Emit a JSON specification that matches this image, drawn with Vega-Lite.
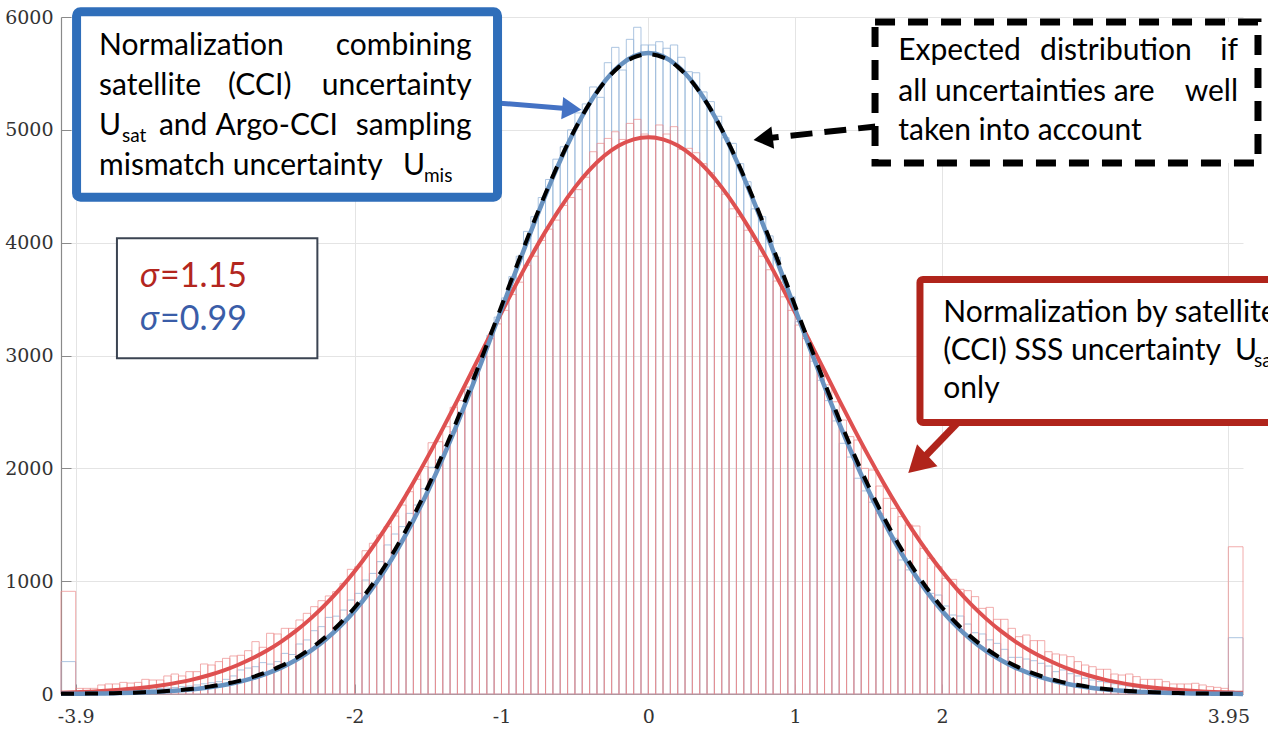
{
"$schema": "https://vega.github.io/schema/vega-lite/v6.json",
"width": 1182,
"height": 677,
"autosize": {"type": "none"},
"padding": {"left": 61, "top": 17, "right": 25, "bottom": 42},
"background": "white",
"config": {
  "view": {"stroke": null},
  "text": {"font": "Lato", "fontSize": 30, "baseline": "alphabetic", "align": "left", "color": "#000000"}
},
"datasets": {
"bins": [
{"lo":-4,"hi":-3.9,"r":910,"b":287},
{"lo":-3.9,"hi":-3.85,"r":50,"b":15},
{"lo":-3.85,"hi":-3.8,"r":50,"b":15},
{"lo":-3.8,"hi":-3.75,"r":50,"b":18},
{"lo":-3.75,"hi":-3.7,"r":80,"b":20},
{"lo":-3.7,"hi":-3.65,"r":89,"b":22},
{"lo":-3.65,"hi":-3.6,"r":89,"b":25},
{"lo":-3.6,"hi":-3.55,"r":103,"b":28},
{"lo":-3.55,"hi":-3.5,"r":97,"b":30},
{"lo":-3.5,"hi":-3.45,"r":103,"b":35},
{"lo":-3.45,"hi":-3.4,"r":130,"b":38},
{"lo":-3.4,"hi":-3.35,"r":124,"b":42},
{"lo":-3.35,"hi":-3.3,"r":124,"b":48},
{"lo":-3.3,"hi":-3.25,"r":160,"b":52},
{"lo":-3.25,"hi":-3.2,"r":177,"b":58},
{"lo":-3.2,"hi":-3.15,"r":160,"b":65},
{"lo":-3.15,"hi":-3.1,"r":198,"b":70},
{"lo":-3.1,"hi":-3.05,"r":198,"b":80},
{"lo":-3.05,"hi":-3,"r":266,"b":90},
{"lo":-3,"hi":-2.95,"r":257,"b":100},
{"lo":-2.95,"hi":-2.9,"r":287,"b":109},
{"lo":-2.9,"hi":-2.85,"r":316,"b":130},
{"lo":-2.85,"hi":-2.8,"r":337,"b":160},
{"lo":-2.8,"hi":-2.75,"r":343,"b":213},
{"lo":-2.75,"hi":-2.7,"r":384,"b":230},
{"lo":-2.7,"hi":-2.65,"r":464,"b":242},
{"lo":-2.65,"hi":-2.6,"r":414,"b":278},
{"lo":-2.6,"hi":-2.55,"r":538,"b":265},
{"lo":-2.55,"hi":-2.5,"r":532,"b":287},
{"lo":-2.5,"hi":-2.45,"r":582,"b":360},
{"lo":-2.45,"hi":-2.4,"r":582,"b":350},
{"lo":-2.4,"hi":-2.35,"r":656,"b":443},
{"lo":-2.35,"hi":-2.3,"r":715,"b":479},
{"lo":-2.3,"hi":-2.25,"r":774,"b":561},
{"lo":-2.25,"hi":-2.2,"r":827,"b":597},
{"lo":-2.2,"hi":-2.15,"r":869,"b":679},
{"lo":-2.15,"hi":-2.1,"r":907,"b":690},
{"lo":-2.1,"hi":-2.05,"r":981,"b":744},
{"lo":-2.05,"hi":-2,"r":1105,"b":833},
{"lo":-2,"hi":-1.95,"r":1128,"b":892},
{"lo":-1.95,"hi":-1.9,"r":1270,"b":1010},
{"lo":-1.9,"hi":-1.85,"r":1336,"b":1069},
{"lo":-1.85,"hi":-1.8,"r":1409,"b":1173},
{"lo":-1.8,"hi":-1.75,"r":1483,"b":1321},
{"lo":-1.75,"hi":-1.7,"r":1578,"b":1418},
{"lo":-1.7,"hi":-1.65,"r":1675,"b":1483},
{"lo":-1.65,"hi":-1.6,"r":1793,"b":1601},
{"lo":-1.6,"hi":-1.55,"r":1903,"b":1675},
{"lo":-1.55,"hi":-1.5,"r":2015,"b":1820},
{"lo":-1.5,"hi":-1.45,"r":2227,"b":2009},
{"lo":-1.45,"hi":-1.4,"r":2236,"b":2074},
{"lo":-1.4,"hi":-1.35,"r":2369,"b":2198},
{"lo":-1.35,"hi":-1.3,"r":2541,"b":2325},
{"lo":-1.3,"hi":-1.25,"r":2600,"b":2500},
{"lo":-1.25,"hi":-1.2,"r":2720,"b":2700},
{"lo":-1.2,"hi":-1.15,"r":2880,"b":2840},
{"lo":-1.15,"hi":-1.1,"r":2990,"b":2990},
{"lo":-1.1,"hi":-1.05,"r":3150,"b":3180},
{"lo":-1.05,"hi":-1,"r":3280,"b":3340},
{"lo":-1,"hi":-0.95,"r":3400,"b":3510},
{"lo":-0.95,"hi":-0.9,"r":3540,"b":3700},
{"lo":-0.9,"hi":-0.85,"r":3650,"b":3880},
{"lo":-0.85,"hi":-0.8,"r":3800,"b":4100},
{"lo":-0.8,"hi":-0.75,"r":3880,"b":4230},
{"lo":-0.75,"hi":-0.7,"r":4020,"b":4400},
{"lo":-0.7,"hi":-0.65,"r":4120,"b":4560},
{"lo":-0.65,"hi":-0.6,"r":4200,"b":4740},
{"lo":-0.6,"hi":-0.55,"r":4330,"b":4850},
{"lo":-0.55,"hi":-0.5,"r":4400,"b":5000},
{"lo":-0.5,"hi":-0.45,"r":4470,"b":5150},
{"lo":-0.45,"hi":-0.4,"r":4580,"b":5230},
{"lo":-0.4,"hi":-0.35,"r":4806,"b":5380},
{"lo":-0.35,"hi":-0.3,"r":4880,"b":5288},
{"lo":-0.3,"hi":-0.25,"r":4924,"b":5595},
{"lo":-0.25,"hi":-0.2,"r":4983,"b":5731},
{"lo":-0.2,"hi":-0.15,"r":4915,"b":5530},
{"lo":-0.15,"hi":-0.1,"r":5057,"b":5802},
{"lo":-0.1,"hi":-0.05,"r":5093,"b":5909},
{"lo":-0.05,"hi":0,"r":4963,"b":5752},
{"lo":0,"hi":0.05,"r":4945,"b":5752},
{"lo":0.05,"hi":0.1,"r":5043,"b":5781},
{"lo":0.1,"hi":0.15,"r":4963,"b":5723},
{"lo":0.15,"hi":0.2,"r":5028,"b":5752},
{"lo":0.2,"hi":0.25,"r":4827,"b":5643},
{"lo":0.25,"hi":0.3,"r":4836,"b":5515},
{"lo":0.3,"hi":0.35,"r":4797,"b":5506},
{"lo":0.35,"hi":0.4,"r":4700,"b":5336},
{"lo":0.4,"hi":0.45,"r":4620,"b":5250},
{"lo":0.45,"hi":0.5,"r":4500,"b":5120},
{"lo":0.5,"hi":0.55,"r":4430,"b":4930},
{"lo":0.55,"hi":0.6,"r":4300,"b":4880},
{"lo":0.6,"hi":0.65,"r":4230,"b":4700},
{"lo":0.65,"hi":0.7,"r":4110,"b":4540},
{"lo":0.7,"hi":0.75,"r":4010,"b":4300},
{"lo":0.75,"hi":0.8,"r":3880,"b":4230},
{"lo":0.8,"hi":0.85,"r":3760,"b":4060},
{"lo":0.85,"hi":0.9,"r":3660,"b":3870},
{"lo":0.9,"hi":0.95,"r":3520,"b":3650},
{"lo":0.95,"hi":1,"r":3400,"b":3520},
{"lo":1,"hi":1.05,"r":3270,"b":3300},
{"lo":1.05,"hi":1.1,"r":3150,"b":3150},
{"lo":1.1,"hi":1.15,"r":3000,"b":2950},
{"lo":1.15,"hi":1.2,"r":2870,"b":2780},
{"lo":1.2,"hi":1.25,"r":2740,"b":2600},
{"lo":1.25,"hi":1.3,"r":2590,"b":2420},
{"lo":1.3,"hi":1.35,"r":2428,"b":2222},
{"lo":1.35,"hi":1.4,"r":2281,"b":2100},
{"lo":1.4,"hi":1.45,"r":2251,"b":1912},
{"lo":1.45,"hi":1.5,"r":2000,"b":1800},
{"lo":1.5,"hi":1.55,"r":1985,"b":1700},
{"lo":1.55,"hi":1.6,"r":1843,"b":1600},
{"lo":1.6,"hi":1.65,"r":1734,"b":1500},
{"lo":1.65,"hi":1.7,"r":1645,"b":1380},
{"lo":1.7,"hi":1.75,"r":1572,"b":1188},
{"lo":1.75,"hi":1.8,"r":1498,"b":1100},
{"lo":1.8,"hi":1.85,"r":1489,"b":1000},
{"lo":1.85,"hi":1.9,"r":1291,"b":960},
{"lo":1.9,"hi":1.95,"r":1202,"b":892},
{"lo":1.95,"hi":2,"r":1128,"b":877},
{"lo":2,"hi":2.05,"r":1025,"b":780},
{"lo":2.05,"hi":2.1,"r":1016,"b":700},
{"lo":2.1,"hi":2.15,"r":928,"b":691},
{"lo":2.15,"hi":2.2,"r":916,"b":620},
{"lo":2.2,"hi":2.25,"r":863,"b":543},
{"lo":2.25,"hi":2.3,"r":759,"b":532},
{"lo":2.3,"hi":2.35,"r":768,"b":480},
{"lo":2.35,"hi":2.4,"r":662,"b":449},
{"lo":2.4,"hi":2.45,"r":662,"b":396},
{"lo":2.45,"hi":2.5,"r":582,"b":325},
{"lo":2.5,"hi":2.55,"r":508,"b":325},
{"lo":2.55,"hi":2.6,"r":523,"b":310},
{"lo":2.6,"hi":2.65,"r":473,"b":295},
{"lo":2.65,"hi":2.7,"r":473,"b":272},
{"lo":2.7,"hi":2.75,"r":375,"b":248},
{"lo":2.75,"hi":2.8,"r":355,"b":198},
{"lo":2.8,"hi":2.85,"r":346,"b":213},
{"lo":2.85,"hi":2.9,"r":331,"b":180},
{"lo":2.9,"hi":2.95,"r":287,"b":160},
{"lo":2.95,"hi":3,"r":257,"b":140},
{"lo":3,"hi":3.05,"r":242,"b":124},
{"lo":3.05,"hi":3.1,"r":219,"b":110},
{"lo":3.1,"hi":3.15,"r":219,"b":100},
{"lo":3.15,"hi":3.2,"r":177,"b":90},
{"lo":3.2,"hi":3.25,"r":168,"b":80},
{"lo":3.25,"hi":3.3,"r":177,"b":70},
{"lo":3.3,"hi":3.35,"r":154,"b":60},
{"lo":3.35,"hi":3.4,"r":130,"b":52},
{"lo":3.4,"hi":3.45,"r":130,"b":45},
{"lo":3.45,"hi":3.5,"r":130,"b":40},
{"lo":3.5,"hi":3.55,"r":109,"b":35},
{"lo":3.55,"hi":3.6,"r":89,"b":30},
{"lo":3.6,"hi":3.65,"r":89,"b":27},
{"lo":3.65,"hi":3.7,"r":89,"b":24},
{"lo":3.7,"hi":3.75,"r":95,"b":21},
{"lo":3.75,"hi":3.8,"r":80,"b":18},
{"lo":3.8,"hi":3.85,"r":65,"b":16},
{"lo":3.85,"hi":3.9,"r":59,"b":14},
{"lo":3.9,"hi":3.95,"r":50,"b":12},
{"lo":3.95,"hi":4.05,"r":1305,"b":499}
],
"curves": [
{"x":-4,"r":12,"b":2,"k":2},
{"x":-3.9,"r":16,"b":2,"k":3},
{"x":-3.8,"r":21,"b":4,"k":4},
{"x":-3.7,"r":28,"b":5,"k":6},
{"x":-3.6,"r":37,"b":8,"k":9},
{"x":-3.5,"r":48,"b":11,"k":12},
{"x":-3.4,"r":62,"b":16,"k":18},
{"x":-3.3,"r":80,"b":22,"k":24},
{"x":-3.2,"r":103,"b":31,"k":34},
{"x":-3.1,"r":130,"b":42,"k":46},
{"x":-3,"r":164,"b":58,"k":63},
{"x":-2.9,"r":205,"b":78,"k":85},
{"x":-2.8,"r":255,"b":104,"k":112},
{"x":-2.7,"r":314,"b":138,"k":148},
{"x":-2.6,"r":383,"b":181,"k":193},
{"x":-2.5,"r":465,"b":234,"k":249},
{"x":-2.4,"r":559,"b":301,"k":318},
{"x":-2.3,"r":668,"b":382,"k":403},
{"x":-2.2,"r":792,"b":481,"k":504},
{"x":-2.1,"r":932,"b":599,"k":625},
{"x":-2,"r":1088,"b":738,"k":767},
{"x":-1.9,"r":1261,"b":901,"k":933},
{"x":-1.8,"r":1450,"b":1088,"k":1122},
{"x":-1.7,"r":1655,"b":1300,"k":1337},
{"x":-1.6,"r":1875,"b":1539,"k":1576},
{"x":-1.5,"r":2108,"b":1802,"k":1841},
{"x":-1.4,"r":2352,"b":2090,"k":2128},
{"x":-1.3,"r":2605,"b":2398,"k":2436},
{"x":-1.2,"r":2863,"b":2725,"k":2760},
{"x":-1.1,"r":3123,"b":3064,"k":3096},
{"x":-1,"r":3381,"b":3410,"k":3439},
{"x":-0.9,"r":3633,"b":3757,"k":3782},
{"x":-0.8,"r":3874,"b":4098,"k":4117},
{"x":-0.7,"r":4100,"b":4424,"k":4438},
{"x":-0.6,"r":4307,"b":4727,"k":4736},
{"x":-0.5,"r":4490,"b":5000,"k":5004},
{"x":-0.4,"r":4645,"b":5235,"k":5234},
{"x":-0.3,"r":4770,"b":5425,"k":5421},
{"x":-0.2,"r":4861,"b":5565,"k":5558},
{"x":-0.1,"r":4916,"b":5651,"k":5642},
{"x":0,"r":4935,"b":5680,"k":5670},
{"x":0.1,"r":4916,"b":5651,"k":5642},
{"x":0.2,"r":4861,"b":5565,"k":5558},
{"x":0.3,"r":4770,"b":5425,"k":5421},
{"x":0.4,"r":4645,"b":5235,"k":5234},
{"x":0.5,"r":4490,"b":5000,"k":5004},
{"x":0.6,"r":4307,"b":4727,"k":4736},
{"x":0.7,"r":4100,"b":4424,"k":4438},
{"x":0.8,"r":3874,"b":4098,"k":4117},
{"x":0.9,"r":3633,"b":3757,"k":3782},
{"x":1,"r":3381,"b":3410,"k":3439},
{"x":1.1,"r":3123,"b":3064,"k":3096},
{"x":1.2,"r":2863,"b":2725,"k":2760},
{"x":1.3,"r":2605,"b":2398,"k":2436},
{"x":1.4,"r":2352,"b":2090,"k":2128},
{"x":1.5,"r":2108,"b":1802,"k":1841},
{"x":1.6,"r":1875,"b":1539,"k":1576},
{"x":1.7,"r":1655,"b":1300,"k":1337},
{"x":1.8,"r":1450,"b":1088,"k":1122},
{"x":1.9,"r":1261,"b":901,"k":933},
{"x":2,"r":1088,"b":738,"k":767},
{"x":2.1,"r":932,"b":599,"k":625},
{"x":2.2,"r":792,"b":481,"k":504},
{"x":2.3,"r":668,"b":382,"k":403},
{"x":2.4,"r":559,"b":301,"k":318},
{"x":2.5,"r":465,"b":234,"k":249},
{"x":2.6,"r":383,"b":181,"k":193},
{"x":2.7,"r":314,"b":138,"k":148},
{"x":2.8,"r":255,"b":104,"k":112},
{"x":2.9,"r":205,"b":78,"k":85},
{"x":3,"r":164,"b":58,"k":63},
{"x":3.1,"r":130,"b":42,"k":46},
{"x":3.2,"r":103,"b":31,"k":34},
{"x":3.3,"r":80,"b":22,"k":24},
{"x":3.4,"r":62,"b":16,"k":18},
{"x":3.5,"r":48,"b":11,"k":12},
{"x":3.6,"r":37,"b":8,"k":9},
{"x":3.7,"r":28,"b":5,"k":6},
{"x":3.8,"r":21,"b":4,"k":4},
{"x":3.9,"r":16,"b":2,"k":3},
{"x":4,"r":12,"b":2,"k":2},
{"x":4.05,"r":10,"b":1,"k":2}
]
},
"data": {"values": [{}]},
"layer": [
{"data": {"name": "bins"},
 "mark": {"type": "rect", "fill": "#ffffff", "fillOpacity": 0, "stroke": "#9DBBDC", "strokeOpacity": 0.85, "strokeWidth": 1},
 "encoding": {
  "x": {"field": "lo", "type": "quantitative", "title": null,
        "scale": {"domain": [-4, 4.05], "nice": false, "zero": false},
        "axis": {"values": [-3.9, -2, -1, 0, 1, 2, 3.95], "labelExpr": "'' + datum.value", "grid": true, "gridColor": "#E4E4E4", "gridWidth": 1,
                 "domainColor": "#8A8A8A", "domainWidth": 1.2, "tickColor": "#8A8A8A", "tickSize": -10, "labelPadding": 23,
                 "labelFont": "DejaVu Serif", "labelFontSize": 19, "labelColor": "#333333", "labelFlush": false, "labelOverlap": false, "title": null}},
  "x2": {"field": "hi", "title": null},
  "y": {"field": "b", "type": "quantitative", "title": null,
        "scale": {"domain": [0, 6000], "nice": false, "zero": true},
        "axis": {"values": [0, 1000, 2000, 3000, 4000, 5000, 6000], "format": "d", "grid": true, "gridColor": "#E4E4E4", "gridWidth": 1,
                 "domainColor": "#8A8A8A", "domainWidth": 1.2, "tickColor": "#8A8A8A", "tickSize": -10, "labelPadding": 18,
                 "labelFont": "DejaVu Serif", "labelFontSize": 19, "labelColor": "#333333", "labelFlush": false, "title": null}},
  "y2": {"datum": 0}
 }},
{"data": {"name": "bins"},
 "mark": {"type": "rect", "fill": "#ffffff", "fillOpacity": 0, "stroke": "#EC8A8A", "strokeOpacity": 0.7, "strokeWidth": 1},
 "encoding": {
  "x": {"field": "lo", "type": "quantitative", "title": null},
  "x2": {"field": "hi", "title": null},
  "y": {"field": "r", "type": "quantitative", "title": null},
  "y2": {"datum": 0}
 }},
{"data": {"name": "curves"},
 "mark": {"type": "line", "color": "#DE5050", "strokeWidth": 4, "interpolate": "monotone"},
 "encoding": {"x": {"field": "x", "type": "quantitative", "title": null}, "y": {"field": "r", "type": "quantitative", "title": null}}},
{"data": {"name": "curves"},
 "mark": {"type": "line", "color": "#6892C0", "strokeWidth": 4.5, "interpolate": "monotone"},
 "encoding": {"x": {"field": "x", "type": "quantitative", "title": null}, "y": {"field": "b", "type": "quantitative", "title": null}}},
{"data": {"name": "curves"},
 "mark": {"type": "line", "color": "#000000", "strokeWidth": 4, "strokeDash": [13, 11], "interpolate": "monotone"},
 "encoding": {"x": {"field": "x", "type": "quantitative", "title": null}, "y": {"field": "k", "type": "quantitative", "title": null}}},

{"mark": {"type": "rule", "color": "#4472C4", "strokeWidth": 5},
 "encoding": {"x": {"datum": -1.0306}, "y": {"datum": 5238}, "x2": {"datum": -0.521}, "y2": {"datum": 5185}}},
{"mark": {"type": "point", "shape": "triangle-right", "filled": true, "color": "#4472C4", "opacity": 1, "size": 500, "angle": 5},
 "encoding": {"x": {"datum": -0.521}, "y": {"datum": 5185}}},
{"mark": {"type": "rule", "color": "#000000", "strokeWidth": 6, "strokeDash": [22, 12]},
 "encoding": {"x": {"datum": 1.578}, "y": {"datum": 5034}, "x2": {"datum": 0.782}, "y2": {"datum": 4921}}},
{"mark": {"type": "point", "shape": "triangle-right", "filled": true, "color": "#000000", "opacity": 1, "size": 500, "angle": 173},
 "encoding": {"x": {"datum": 0.782}, "y": {"datum": 4921}}},
{"mark": {"type": "rule", "color": "#B0241B", "strokeWidth": 7},
 "encoding": {"x": {"datum": 2.157}, "y": {"datum": 2473}, "x2": {"datum": 1.835}, "y2": {"datum": 2038}}},
{"mark": {"type": "point", "shape": "triangle-right", "filled": true, "color": "#B0241B", "opacity": 1, "size": 900, "angle": 137},
 "encoding": {"x": {"datum": 1.835}, "y": {"datum": 2038}}},

{"mark": {"type": "rect", "fill": "#ffffff", "stroke": "#2F6EBA", "strokeWidth": 9, "cornerRadius": 4},
 "encoding": {"x": {"datum": -3.894}, "x2": {"datum": -1.027}, "y": {"datum": 6046}, "y2": {"datum": 4403}}},
{"mark": {"type": "rect", "fill": "#ffffff", "stroke": "#000000", "strokeWidth": 7, "strokeDash": [20, 13]},
 "encoding": {"x": {"datum": 1.544}, "x2": {"datum": 4.152}, "y": {"datum": 5956}, "y2": {"datum": 4706}}},
{"mark": {"type": "rect", "fill": "#ffffff", "stroke": "#B0241B", "strokeWidth": 7, "cornerRadius": 3},
 "encoding": {"x": {"datum": 1.85}, "x2": {"datum": 4.37}, "y": {"datum": 3674}, "y2": {"datum": 2406}}},
{"mark": {"type": "rect", "fill": "#ffffff", "stroke": "#3B4452", "strokeWidth": 2},
 "encoding": {"x": {"datum": -3.619}, "x2": {"datum": -2.254}, "y": {"datum": 4039}, "y2": {"datum": 2975}}},

{"mark": {"type": "text"}, "encoding": {"text": {"value": "Normalization"}, "x": {"datum": -3.741}, "y": {"datum": 5663}}},
{"mark": {"type": "text", "align": "right"}, "encoding": {"text": {"value": "combining"}, "x": {"datum": -1.203}, "y": {"datum": 5663}}},
{"mark": {"type": "text"}, "encoding": {"text": {"value": "satellite"}, "x": {"datum": -3.741}, "y": {"datum": 5313}}},
{"mark": {"type": "text"}, "encoding": {"text": {"value": "(CCI)"}, "x": {"datum": -2.863}, "y": {"datum": 5313}}},
{"mark": {"type": "text", "align": "right"}, "encoding": {"text": {"value": "uncertainty"}, "x": {"datum": -1.203}, "y": {"datum": 5313}}},
{"mark": {"type": "text"}, "encoding": {"text": {"value": "U"}, "x": {"datum": -3.741}, "y": {"datum": 4954}}},
{"mark": {"type": "text", "fontSize": 19}, "encoding": {"text": {"value": "sat"}, "x": {"datum": -3.585}, "y": {"datum": 4895}}},
{"mark": {"type": "text"}, "encoding": {"text": {"value": "and"}, "x": {"datum": -3.333}, "y": {"datum": 4954}}},
{"mark": {"type": "text", "align": "right"}, "encoding": {"text": {"value": "Argo-CCI"}, "x": {"datum": -2.1135}, "y": {"datum": 4954}}},
{"mark": {"type": "text", "align": "right"}, "encoding": {"text": {"value": "sampling"}, "x": {"datum": -1.203}, "y": {"datum": 4954}}},
{"mark": {"type": "text"}, "encoding": {"text": {"value": "mismatch uncertainty"}, "x": {"datum": -3.741}, "y": {"datum": 4600}}},
{"mark": {"type": "text"}, "encoding": {"text": {"value": "U"}, "x": {"datum": -1.671}, "y": {"datum": 4600}}},
{"mark": {"type": "text", "fontSize": 19}, "encoding": {"text": {"value": "mis"}, "x": {"datum": -1.528}, "y": {"datum": 4540}}},

{"mark": {"type": "text"}, "encoding": {"text": {"value": "Expected"}, "x": {"datum": 1.702}, "y": {"datum": 5619}}},
{"mark": {"type": "text"}, "encoding": {"text": {"value": "distribution"}, "x": {"datum": 2.668}, "y": {"datum": 5619}}},
{"data": {"values": [{"t": "if"}]}, "mark": {"type": "text", "align": "right"}, "encoding": {"text": {"field": "t", "type": "nominal"}, "x": {"datum": 4.016}, "y": {"datum": 5619}}},
{"mark": {"type": "text"}, "encoding": {"text": {"value": "all uncertainties are"}, "x": {"datum": 1.702}, "y": {"datum": 5258}}},
{"mark": {"type": "text", "align": "right"}, "encoding": {"text": {"value": "well"}, "x": {"datum": 4.016}, "y": {"datum": 5258}}},
{"mark": {"type": "text"}, "encoding": {"text": {"value": "taken into account"}, "x": {"datum": 1.702}, "y": {"datum": 4910}}},

{"mark": {"type": "text"}, "encoding": {"text": {"value": "Normalization by satellite"}, "x": {"datum": 2.009}, "y": {"datum": 3300}}},
{"mark": {"type": "text"}, "encoding": {"text": {"value": "(CCI) SSS uncertainty"}, "x": {"datum": 2.009}, "y": {"datum": 2960}}},
{"mark": {"type": "text"}, "encoding": {"text": {"value": "U"}, "x": {"datum": 3.995}, "y": {"datum": 2960}}},
{"mark": {"type": "text", "fontSize": 19}, "encoding": {"text": {"value": "sat"}, "x": {"datum": 4.125}, "y": {"datum": 2898}}},
{"mark": {"type": "text"}, "encoding": {"text": {"value": "only"}, "x": {"datum": 2.009}, "y": {"datum": 2621}}},

{"mark": {"type": "text", "fontStyle": "italic", "fontSize": 34, "color": "#B3261E"}, "encoding": {"text": {"value": "σ"}, "x": {"datum": -3.462}, "y": {"datum": 3610}}},
{"mark": {"type": "text", "fontSize": 34, "color": "#B3261E"}, "encoding": {"text": {"value": "=1.15"}, "x": {"datum": -3.326}, "y": {"datum": 3610}}},
{"mark": {"type": "text", "fontStyle": "italic", "fontSize": 34, "color": "#3A5DA8"}, "encoding": {"text": {"value": "σ"}, "x": {"datum": -3.462}, "y": {"datum": 3226}}},
{"mark": {"type": "text", "fontSize": 34, "color": "#3A5DA8"}, "encoding": {"text": {"value": "=0.99"}, "x": {"datum": -3.326}, "y": {"datum": 3226}}}
]
}
